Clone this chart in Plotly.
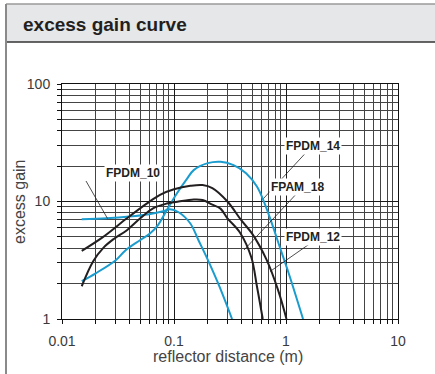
import plotly.graph_objects as go

# excess gain curves (reflector distance in m, excess gain)
fpdm10_x = [0.015, 0.025, 0.04, 0.06, 0.08, 0.092, 0.11, 0.14, 0.165, 0.2, 0.257, 0.33]
fpdm10_y = [7.05, 7.2, 7.45, 7.8, 8.25, 8.6, 8.1, 6.5, 4.7, 3.2, 1.85, 1.0]

fpdm14_x = [0.015, 0.02, 0.03, 0.037, 0.05, 0.061, 0.072, 0.086, 0.106, 0.13, 0.15, 0.2,
            0.26, 0.34, 0.44, 0.55, 0.64, 0.74, 0.88, 1.05, 1.42]
fpdm14_y = [2.1, 2.45, 3.15, 3.85, 4.7, 5.35, 6.3, 8.4, 11.7, 15.5, 18.5, 21.2,
            21.8, 20.4, 17.4, 13.4, 9.8, 6.7, 4.1, 2.5, 1.0]

fpdm12_x = [0.015, 0.023, 0.038, 0.057, 0.075, 0.1, 0.14, 0.18, 0.22, 0.3, 0.4, 0.5, 0.67, 0.85, 1.01]
fpdm12_y = [3.8, 4.95, 7.2, 9.6, 11.4, 12.7, 13.6, 13.8, 13.0, 10.0, 6.9, 5.3, 3.2, 1.76, 1.0]

fpam18_x = [0.015, 0.019, 0.0235, 0.029, 0.038, 0.05, 0.065, 0.086, 0.11, 0.15, 0.18, 0.22,
            0.26, 0.3, 0.39, 0.49, 0.55, 0.62]
fpam18_y = [1.9, 3.1, 4.05, 4.8, 5.7, 7.2, 8.75, 9.6, 10.0, 10.4, 10.3, 9.4,
            8.7, 7.2, 5.4, 3.35, 1.9, 1.0]

x_ticks = [0.01, 0.1, 1, 10]
x_tick_text = ["0.01", "0.1", "1", "10"]
y_ticks = [1, 10, 100]
y_tick_text = ["1", "10", "100"]

BLUE = "#1b9ccf"
DARK = "#231f20"
FONT = "Liberation Sans, Arial, sans-serif"

W, H = 435, 374
L, R, T, B = 62, 37, 84, 55
pw, ph = W - L - R, H - T - B


def px(x):
    return (x - L) / pw


def py(y):
    return (H - B - y) / ph


fig = go.Figure()

series = [
    ("FPDM_10", fpdm10_x, fpdm10_y, BLUE),
    ("FPDM_14", fpdm14_x, fpdm14_y, BLUE),
    ("FPDM_12", fpdm12_x, fpdm12_y, DARK),
    ("FPAM_18", fpam18_x, fpam18_y, DARK),
]
for name, xs, ys, col in series:
    fig.add_trace(go.Scatter(
        x=xs, y=ys, mode="lines", name=name,
        line=dict(color=col, width=2, shape="spline", smoothing=1.0),
        showlegend=False,
    ))

minor_vals = [m * 10 ** e for e in range(-2, 2) for m in range(2, 10)]

axis_common = dict(
    type="log", showline=True, linecolor="#111", linewidth=1, mirror=True,
    ticks="outside", ticklen=4, tickcolor="#111",
    showgrid=True, gridcolor="#1a1a1a", gridwidth=1, zeroline=False,
    tickfont=dict(family=FONT, size=14, color="#3a3a3a"),
)

fig.update_layout(
    width=W, height=H,
    margin=dict(l=L, r=R, t=T, b=B),
    paper_bgcolor="white", plot_bgcolor="white",
    xaxis=dict(range=[-2, 1], tickvals=x_ticks, ticktext=x_tick_text,
               minor=dict(tickvals=minor_vals, ticks="outside", ticklen=4, tickcolor="#111",
                          showgrid=True, gridcolor="#444", gridwidth=1),
               ticklabelstandoff=5, **axis_common),
    yaxis=dict(range=[0, 2], tickvals=y_ticks, ticktext=y_tick_text,
               minor=dict(tickvals=[v for v in minor_vals if v < 100], ticks="outside", ticklen=4,
                          tickcolor="#111", showgrid=True, gridcolor="#444", gridwidth=1),
               ticklabelstandoff=4, **axis_common),
)

shapes = [
    # header band
    dict(type="rect", xref="paper", yref="paper", x0=px(6), x1=px(W + 5), y0=py(42), y1=py(4),
         fillcolor="#e6e7e8", line=dict(width=0), layer="below"),
    dict(type="line", xref="paper", yref="paper", x0=px(6), x1=px(W + 5), y0=py(4), y1=py(4),
         line=dict(color="#9a9a9a", width=1.5)),
    dict(type="line", xref="paper", yref="paper", x0=px(6), x1=px(W + 5), y0=py(42), y1=py(42),
         line=dict(color="#333", width=1.5)),
    dict(type="line", xref="paper", yref="paper", x0=px(6), x1=px(6), y0=py(4), y1=py(H + 5),
         line=dict(color="#8a8a8a", width=2)),
]

# leader lines from labels to curves (pixel positions)
leaders = [
    ((86, 181), (107.5, 218.5)),
    ((313, 145), (263.5, 198.5)),
    ((300, 190), (244, 250)),
    ((313, 241.5), (270, 271.5)),
]
for (x0, y0), (x1, y1) in leaders:
    shapes.append(dict(type="line", xref="paper", yref="paper",
                       x0=px(x0), y0=py(y0), x1=px(x1), y1=py(y1),
                       line=dict(color=DARK, width=0.8)))
fig.update_layout(shapes=shapes)

labels = [
    ("FPDM_10", 103.5, 173),
    ("FPDM_14", 341.5, 137),
    ("FPAM_18", 326, 187),
    ("FPDM_12", 341.5, 236.5),
]
annotations = []
for text, lx, ly in labels:
    annotations.append(dict(
        text=f"<b>{text}</b>", xref="paper", yref="paper", x=px(lx), y=py(ly),
        showarrow=False, bgcolor="white", borderpad=1,
        font=dict(family=FONT, size=12, color=DARK),
    ))

annotations += [
    dict(text="<b>excess gain curve</b>", xref="paper", yref="paper", x=px(21), y=py(24),
         xanchor="left", yanchor="middle", showarrow=False,
         font=dict(family=FONT, size=19, color=DARK)),
    dict(text="reflector distance (m)", xref="paper", yref="paper", x=px(228), y=py(356),
         xanchor="center", yanchor="middle", showarrow=False,
         font=dict(family=FONT, size=16, color="#444")),
    dict(text="excess gain", xref="paper", yref="paper", x=px(19), y=py(202), textangle=-90,
         xanchor="center", yanchor="middle", showarrow=False,
         font=dict(family=FONT, size=16, color="#444")),
]
fig.update_layout(annotations=annotations)

fig.write_html("out.html", config={"displayModeBar": False},
               post_script="document.body.style.margin='0';")
